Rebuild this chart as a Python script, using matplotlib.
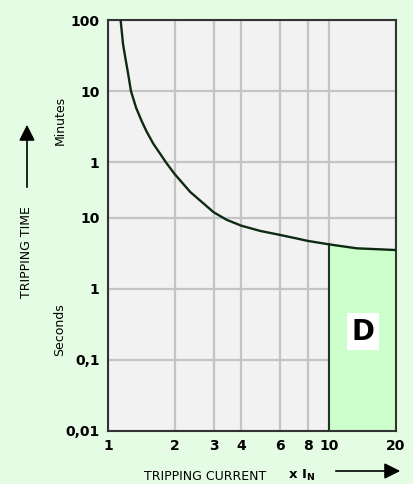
import matplotlib
matplotlib.use("Agg")
import matplotlib.pyplot as plt
from matplotlib.ticker import FixedLocator, FixedFormatter, NullLocator

# tripping curve (multiple of I_N, seconds)
current = [1.14, 1.17, 1.20, 1.23, 1.27, 1.34, 1.42, 1.49, 1.60, 1.74, 1.84, 2.0,
           2.35, 3.0, 3.44, 4.0, 4.87, 6.0, 7.1, 8.0, 10, 13.3, 20]
time_s = [6000, 2710, 1700, 1100, 600, 349, 227, 165, 110, 75, 58, 41,
          23, 11.9, 9.3, 7.7, 6.5, 5.7, 5.1, 4.7, 4.2, 3.7, 3.5]

x_ticks = [1, 2, 3, 4, 6, 8, 10, 20]
x_labels = ["1", "2", "3", "4", "6", "8", "10", "20"]
y_ticks = [0.01, 0.1, 1, 10, 60, 600, 6000]
y_labels = ["0,01", "0,1", "1", "10", "1", "10", "100"]

zone_label = "D"
zone_start = 10

bg = "#e4fce4"
W, H = 414, 484

fig = plt.figure(figsize=(W / 100, H / 100), dpi=100, facecolor=bg)
ax = fig.add_axes([108 / W, 1 - 431 / H, 288 / W, 411 / H])
ax.set_facecolor("#f2f2f2")
ax.set_xscale("log")
ax.set_yscale("log")
ax.set_xlim(1, 20)
ax.set_ylim(0.01, 6000)

ax.xaxis.set_major_locator(FixedLocator(x_ticks))
ax.xaxis.set_major_formatter(FixedFormatter(x_labels))
ax.xaxis.set_minor_locator(NullLocator())
ax.yaxis.set_major_locator(FixedLocator(y_ticks))
ax.yaxis.set_major_formatter(FixedFormatter(y_labels))
ax.yaxis.set_minor_locator(NullLocator())
ax.tick_params(length=0, labelsize=10, pad=6)
for lab in ax.get_xticklabels() + ax.get_yticklabels():
    lab.set_fontweight("bold")

ax.grid(True, color="#c4c4c4", linewidth=1.6)
ax.set_axisbelow(True)
for sp in ax.spines.values():
    sp.set_color("#333333")
    sp.set_linewidth(1.5)

# green zone under the curve from 10 x I_N
zx = [c for c in current if c >= zone_start]
zy = [t for c, t in zip(current, time_s) if c >= zone_start]
ax.fill_between(zx, 0.01, zy, color="#ccffcc", zorder=2)
ax.plot([zone_start, zone_start], [0.01, zy[0]], color="#1e3a1e", lw=1.5, zorder=3)

ax.plot(current, time_s, color="#0e2a12", lw=1.7, zorder=4)

ax.text(14.2, 0.25, zone_label, fontsize=20, fontweight="bold", ha="center", va="center",
        bbox=dict(facecolor="white", edgecolor="none", pad=3.5), zorder=5)

# side and bottom labels
fig.text(60 / W, 1 - 120 / H, "Minutes", rotation=90, fontsize=9, ha="center", va="center")
fig.text(60 / W, 1 - 330 / H, "Seconds", rotation=90, fontsize=9, ha="center", va="center")
fig.text(27 / W, 1 - 252 / H, "TRIPPING TIME", rotation=90, fontsize=9, ha="center", va="center")
fig.text(205 / W, 1 - 477 / H, "TRIPPING CURRENT", fontsize=9, ha="center", va="center")
fig.text(288 / W, 1 - 475 / H, r"x $\mathbf{I_N}$", fontsize=9.5, fontweight="bold", ha="left", va="center")

arrow = dict(arrowstyle="-|>,head_width=0.4,head_length=0.8", color="black", lw=1.2)
fig.add_artist(matplotlib.patches.FancyArrowPatch((27 / W, 1 - 190 / H), (27 / W, 1 - 122 / H),
                                                  transform=fig.transFigure, mutation_scale=12, **arrow))
fig.add_artist(matplotlib.patches.FancyArrowPatch((333 / W, 1 - 471 / H), (403 / W, 1 - 471 / H),
                                                  transform=fig.transFigure, mutation_scale=12, **arrow))

fig.savefig("out.png", dpi=100, facecolor=bg)
